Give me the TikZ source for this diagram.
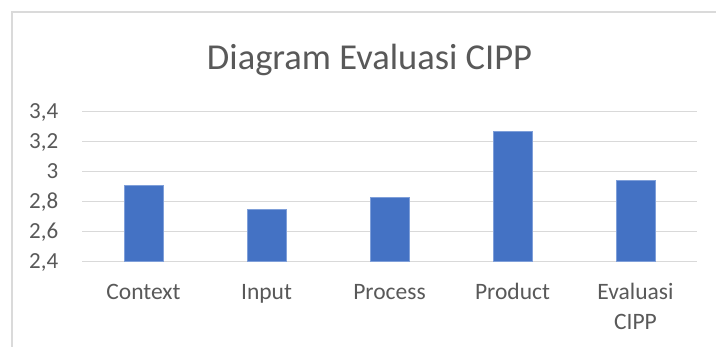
\documentclass[tikz,border=0pt]{standalone}
\usepackage{fontspec}
\setmainfont{Carlito}
\usetikzlibrary{calc}
\definecolor{barblue}{HTML}{4472C4}
\definecolor{baredge}{HTML}{7F9FD9}
\definecolor{gridgray}{HTML}{D9D9D9}
\definecolor{framegray}{HTML}{DADADA}
\definecolor{textgray}{HTML}{595959}
\begin{document}
\begin{tikzpicture}[x=1pt,y=-1pt,
  gridline/.style={draw=gridgray,line width=1.4pt},
  bar/.style={fill=barblue,draw=baredge,line width=0.6pt},
  ticklabel/.style={text=textgray,font=\fontsize{23}{28}\selectfont,inner sep=0pt,anchor=base east},
  catlabel/.style={text=textgray,font=\fontsize{23.5}{29}\selectfont,inner sep=0pt,anchor=base,align=center},
  charttitle/.style={text=textgray,font=\fontsize{36.5}{44}\selectfont,inner sep=0pt,anchor=base}]
\useasboundingbox (0,0) rectangle (716,347);
\fill[white] (0,0) rectangle (716,347);
% chart frame (runs off the right and bottom edges)
\draw[framegray,line width=2pt] (11.5,347) -- (11.5,12.5) -- (716,12.5);
% title
\node[charttitle] (title) at (369.5,69.3) {Diagram Evaluasi CIPP};
% value axis: 2.4 at y=261.5, 150 px per unit
\foreach \v/\lab [count=\i] in {2.4/{2,4},2.6/{2,6},2.8/{2,8},3.0/3,3.2/{3,2},3.4/{3,4}}{
  \pgfmathsetmacro{\gy}{261.5-(\v-2.4)*150}
  \coordinate (gl\i) at (82,\gy);
  \coordinate (gr\i) at (697,\gy);
  \draw[gridline] (gl\i) -- (gr\i);
  \node[ticklabel] (tick\i) at (58.5,\gy+7.4) {\lab};
}
% bars
\foreach \name/\cx/\val in {context/143.5/2.91,input/266.5/2.75,process/389.5/2.83,product/512.5/3.27,evaluasi/635.5/2.94}{
  \pgfmathsetmacro{\ty}{261.5-(\val-2.4)*150}
  \path[bar] (\cx-19.3,261) rectangle (\cx+19.3,\ty);
  \coordinate (\name) at (\cx,300);
}
% category labels
\node[catlabel] (lcontext) at (context) {Context};
\node[catlabel] (linput) at (input) {Input};
\node[catlabel] (lprocess) at (process) {Process};
\node[catlabel] (lproduct) at (product) {Product};
\node[catlabel] (levaluasi) at (evaluasi) {Evaluasi};
\node[catlabel] (lcipp) at ($(evaluasi)+(0,29.3)$) {CIPP};
\end{tikzpicture}
\end{document}
